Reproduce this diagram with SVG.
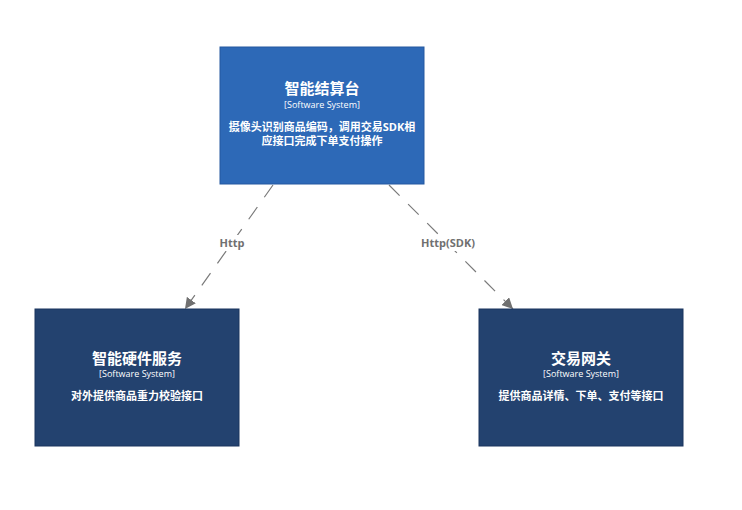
<svg xmlns="http://www.w3.org/2000/svg" width="742" height="510" viewBox="0 0 742 510">
<style>
.t{font-family:"Open Sans","Noto Sans CJK SC",sans-serif;fill:#ffffff;text-anchor:middle}
.title{font-size:15px;font-weight:bold}
.type{font-size:9px}
.desc{font-size:11px;font-weight:bold}
.lbl{font-family:"Open Sans","Noto Sans CJK SC",sans-serif;font-size:11px;font-weight:bold;fill:#707070;text-anchor:middle}
.conn{stroke:#7a7a7a;stroke-width:1.2;fill:none;stroke-dasharray:15,12}
</style>
<defs>
<marker id="arrow" viewBox="0 0 10 10" refX="10" refY="5" markerWidth="11" markerHeight="11" markerUnits="userSpaceOnUse" orient="auto">
<path d="M0,0 L10,5 L0,10 z" fill="#707070"/>
</marker>
</defs>
<rect width="742" height="510" fill="#ffffff"/>
<g id="connectors">
<line class="conn" x1="273" y1="185" x2="185" y2="309" marker-end="url(#arrow)"/>
<line class="conn" x1="389" y1="185" x2="513" y2="309" marker-end="url(#arrow)"/>
<rect x="215" y="235" width="34" height="16" fill="#ffffff"/>
<text class="lbl" x="232" y="247">Http</text>
<rect x="418" y="235" width="60" height="16" fill="#ffffff"/>
<text class="lbl" x="448" y="247">Http(SDK)</text>
</g>
<g id="node-checkout">
<rect x="220" y="47" width="204" height="137" fill="#2d69b7" stroke="#2458a0" stroke-width="1"/>
<text class="t title" x="322" y="94">智能结算台</text>
<text class="t type" x="322" y="108">[Software System]</text>
<text class="t desc" x="322" y="131">摄像头识别商品编码，调用交易SDK相</text>
<text class="t desc" x="322" y="145">应接口完成下单支付操作</text>
</g>
<g id="node-hardware">
<rect x="35" y="309" width="204" height="137" fill="#23426f" stroke="#1b355e" stroke-width="1"/>
<text class="t title" x="137" y="364">智能硬件服务</text>
<text class="t type" x="137" y="377">[Software System]</text>
<text class="t desc" x="137" y="400">对外提供商品重力校验接口</text>
</g>
<g id="node-gateway">
<rect x="479" y="309" width="204" height="137" fill="#23426f" stroke="#1b355e" stroke-width="1"/>
<text class="t title" x="581" y="364">交易网关</text>
<text class="t type" x="581" y="377">[Software System]</text>
<text class="t desc" x="581" y="400">提供商品详情、下单、支付等接口</text>
</g>
</svg>
